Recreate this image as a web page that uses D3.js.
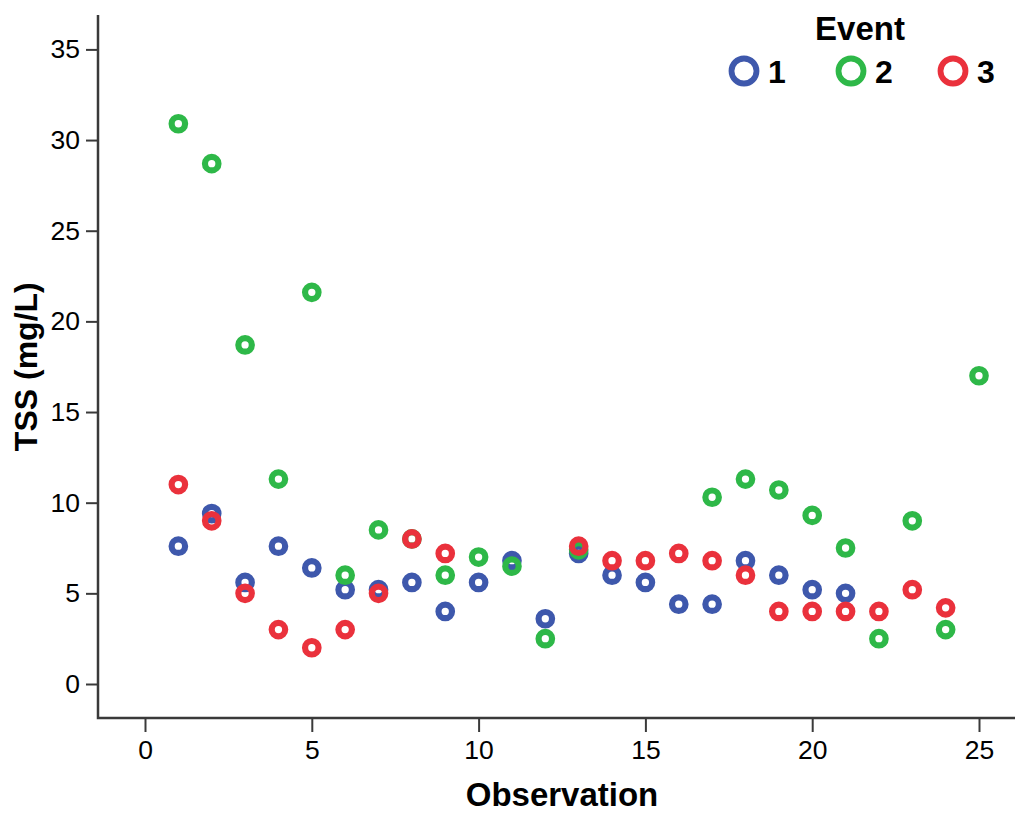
<!DOCTYPE html>
<html>
<head>
<meta charset="utf-8">
<script src="https://cdn.jsdelivr.net/npm/d3@7"></script>
<style>
  html, body { margin: 0; padding: 0; background: #fff; }
  svg { display: block; font-family: "Liberation Sans", Arial, sans-serif; }
</style>
</head>
<body>
<svg id="chart" width="1016" height="814"></svg>
<script>
// TSS measurements by observation number for three sampling events
const event1Obs = [1, 2, 3, 4, 5, 6, 7, 8, 9, 10, 11, 12, 13, 14, 15, 16, 17, 18, 19, 20, 21];
const event1TSS = [7.6, 9.4, 5.6, 7.6, 6.4, 5.2, 5.2, 5.6, 4.0, 5.6, 6.8, 3.6, 7.2, 6.0, 5.6, 4.4, 4.4, 6.8, 6.0, 5.2, 5.0];

const event2Obs = [1, 2, 3, 4, 5, 6, 7, 8, 9, 10, 11, 12, 13, 17, 18, 19, 20, 21, 22, 23, 24, 25];
const event2TSS = [30.9, 28.7, 18.7, 11.3, 21.6, 6.0, 8.5, 8.0, 6.0, 7.0, 6.5, 2.5, 7.4, 10.3, 11.3, 10.7, 9.3, 7.5, 2.5, 9.0, 3.0, 17.0];

const event3Obs = [1, 2, 3, 4, 5, 6, 7, 8, 9, 13, 14, 15, 16, 17, 18, 19, 20, 21, 22, 23, 24];
const event3TSS = [11.0, 9.0, 5.0, 3.0, 2.0, 3.0, 5.0, 8.0, 7.2, 7.6, 6.8, 6.8, 7.2, 6.8, 6.0, 4.0, 4.0, 4.0, 4.0, 5.2, 4.2];

const eventNames = ["1", "2", "3"];
const eventColors = ["#3E58AC", "#2EB848", "#EA313C"];

const xTicks = [0, 5, 10, 15, 20, 25];
const yTicks = [0, 5, 10, 15, 20, 25, 30, 35];

const series = [
  { name: eventNames[0], obs: event1Obs, tss: event1TSS, color: eventColors[0] },
  { name: eventNames[1], obs: event2Obs, tss: event2TSS, color: eventColors[1] },
  { name: eventNames[2], obs: event3Obs, tss: event3TSS, color: eventColors[2] }
];

const svg = d3.select("#chart");

// plot frame
const frame = { left: 98, right: 1015, top: 15, bottom: 718 };

const x = d3.scaleLinear().domain([0, 25]).range([145, 979]);
const y = d3.scaleLinear().domain([0, 35]).range([684, 49.4]);

const axisColor = "#3a3a3a";

// x axis
const gx = svg.append("g")
  .attr("transform", `translate(0,${frame.bottom})`)
  .call(d3.axisBottom(x).tickValues(xTicks).tickFormat(d3.format("d"))
    .tickSize(14).tickPadding(8));
gx.select(".domain").remove();
gx.selectAll(".tick line").attr("stroke", axisColor).attr("stroke-width", 2);
gx.selectAll(".tick text").attr("fill", "#000").style("font-size", "26.5px");

// y axis
const gy = svg.append("g")
  .attr("transform", `translate(${frame.left},0)`)
  .call(d3.axisLeft(y).tickValues(yTicks).tickFormat(d3.format("d"))
    .tickSize(12).tickPadding(6));
gy.select(".domain").remove();
gy.selectAll(".tick line").attr("stroke", axisColor).attr("stroke-width", 2);
gy.selectAll(".tick text").attr("fill", "#000").style("font-size", "26.5px");

// axis lines
svg.append("path")
  .attr("d", `M${frame.left},${frame.top}V${frame.bottom}H${frame.right}`)
  .attr("fill", "none")
  .attr("stroke", axisColor)
  .attr("stroke-width", 2.5);

// axis titles
svg.append("text")
  .attr("x", (x(0) + x(25)) / 2)
  .attr("y", 806)
  .attr("text-anchor", "middle")
  .style("font-size", "33px")
  .style("font-weight", "bold")
  .text("Observation");

svg.append("text")
  .attr("transform", `translate(37,${(y(0) + y(35)) / 2}) rotate(-90)`)
  .attr("text-anchor", "middle")
  .style("font-size", "32px")
  .style("font-weight", "bold")
  .text("TSS (mg/L)");

// points
const gPts = svg.append("g");
series.forEach(s => {
  gPts.append("g")
    .selectAll("circle")
    .data(s.obs.map((o, i) => ({ o, v: s.tss[i] })))
    .join("circle")
    .attr("cx", d => x(d.o))
    .attr("cy", d => y(d.v))
    .attr("r", 6.75)
    .attr("fill", "none")
    .attr("stroke", s.color)
    .attr("stroke-width", 6.2);
});

// legend
svg.append("text")
  .attr("x", 860)
  .attr("y", 40)
  .attr("text-anchor", "middle")
  .style("font-size", "33px")
  .style("font-weight", "bold")
  .text("Event");

const legendX = [744, 851, 953];
const leg = svg.append("g");
series.forEach((s, i) => {
  leg.append("circle")
    .attr("cx", legendX[i])
    .attr("cy", 71)
    .attr("r", 12.5)
    .attr("fill", "none")
    .attr("stroke", s.color)
    .attr("stroke-width", 5.8);
  leg.append("text")
    .attr("x", legendX[i] + 24)
    .attr("y", 82.5)
    .style("font-size", "32px")
    .style("font-weight", "bold")
    .text(s.name);
});
</script>
</body>
</html>
